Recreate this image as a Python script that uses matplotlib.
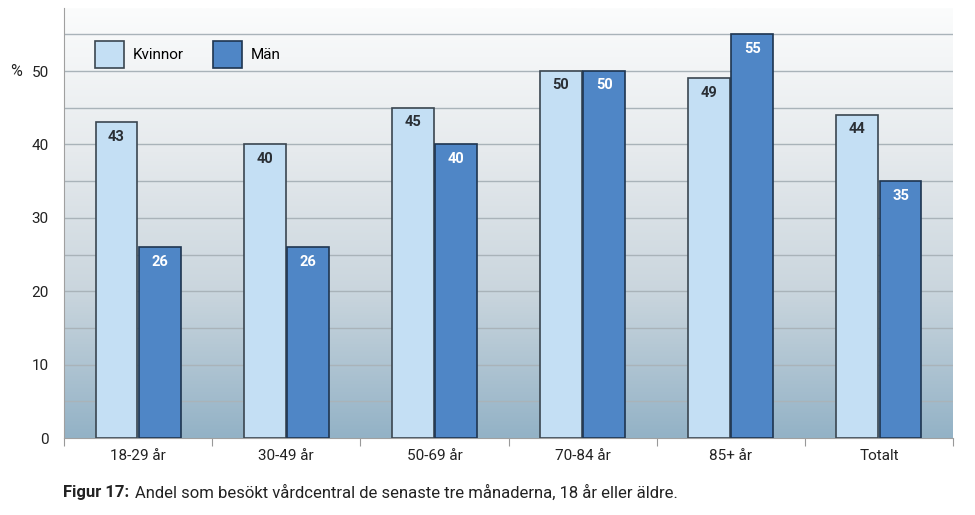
import numpy as np
import matplotlib.pyplot as plt
from matplotlib.colors import LinearSegmentedColormap

plt.rcParams['font.family'] = ['Roboto', 'DejaVu Sans']

categories = ['18-29 år', '30-49 år', '50-69 år', '70-84 år', '85+ år', 'Totalt']
kvinnor = [43, 40, 45, 50, 49, 44]
man = [26, 26, 40, 50, 55, 35]

light = '#c4dff4'
dark = '#4f86c6'

fig = plt.figure(figsize=(9.75, 5.15), dpi=100)
ax = fig.add_axes([64/975, 77/515, 889/975, 430/515])

ymax = 58.6
ax.set_xlim(0, len(categories))
ax.set_ylim(0, ymax)

# gradient background
cmap = LinearSegmentedColormap.from_list('bg', ['#93b2c6', '#c9d5dd', '#e6eaed', '#fbfcfc'])
grad = np.linspace(0, 1, 256).reshape(-1, 1)
ax.imshow(grad, extent=[0, len(categories), 0, ymax], origin='lower',
          aspect='auto', cmap=cmap, zorder=0)

for y in np.arange(5, 60, 5):
    ax.axhline(y, color='#a9b3b9', lw=1, zorder=1)

ind = np.arange(len(categories)) + 0.5
width = 0.283
b1 = ax.bar(ind - width/2 - 0.004, kvinnor, width, color=light,
            edgecolor='#3a4650', lw=1.2, zorder=3, label='Kvinnor')
b2 = ax.bar(ind + width/2 + 0.004, man, width, color=dark,
            edgecolor='#1e3550', lw=1.2, zorder=3, label='Män')

for rect in b1:
    h = rect.get_height()
    ax.text(rect.get_x() + rect.get_width()/2, h - 1.0, str(h), ha='center', va='top',
            fontsize=10.5, fontweight='bold', color='#2a2f35', zorder=4)
for rect in b2:
    h = rect.get_height()
    ax.text(rect.get_x() + rect.get_width()/2, h - 1.0, str(h), ha='center', va='top',
            fontsize=10.5, fontweight='bold', color='white', zorder=4)

ax.set_yticks([0, 10, 20, 30, 40, 50])
ax.set_yticklabels(['0', '10', '20', '30', '40', '50'], fontsize=11, color='#222')
ax.tick_params(axis='y', length=0, pad=11)
ax.set_xticks(np.arange(len(categories) + 1))
ax.set_xticklabels([])
ax.tick_params(axis='x', length=6, color='#999', direction='out')
ax.set_xticks(ind, minor=True)
ax.set_xticklabels(categories, minor=True, fontsize=11, color='#222')
ax.tick_params(axis='x', which='minor', length=0, pad=8)

for s in ['top', 'right']:
    ax.spines[s].set_visible(False)
ax.spines['left'].set_color('#a0a0a0')
ax.spines['bottom'].set_color('#a0a0a0')

fig.text(10/975, 1 - 72/515, '%', fontsize=11.5, color='#222', va='center')

ax.legend(loc='upper left', bbox_to_anchor=(0.019, 0.955), ncol=2, frameon=False,
          fontsize=11, handlelength=1.9, handleheight=2.3, columnspacing=1.9,
          handletextpad=0.6)

fig.text(63/975, 1 - 493/515, 'Figur 17:', fontsize=12, fontweight='bold', color='#222', va='center')
fig.text(135/975, 1 - 493/515, 'Andel som besökt vårdcentral de senaste tre månaderna, 18 år eller äldre.',
         fontsize=12, color='#222', va='center')

plt.savefig('out.png', dpi=100)
